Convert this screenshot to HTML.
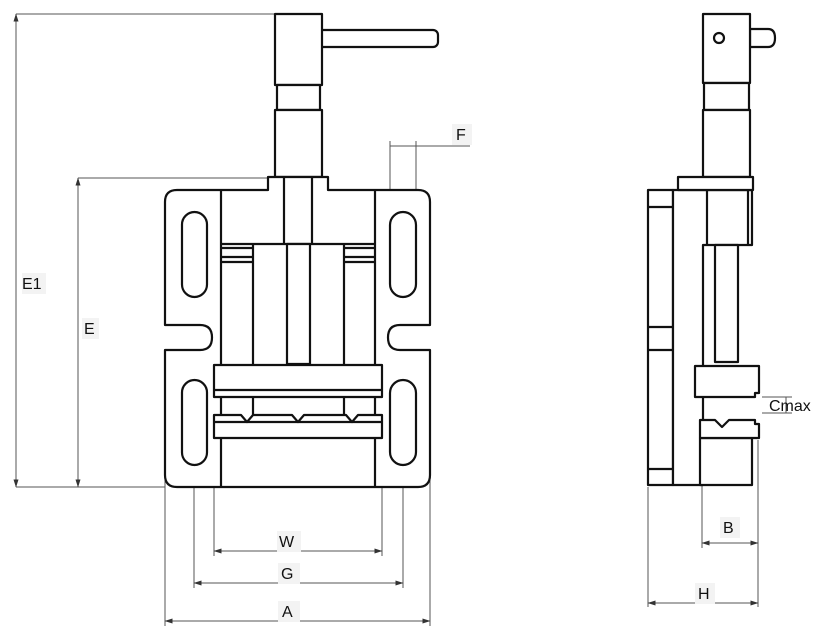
<!DOCTYPE html>
<html><head><style>body{margin:0;background:#fff}svg{display:block}text{font-family:"Liberation Sans",sans-serif;font-size:16px;fill:#111}</style></head><body>
<svg width="823" height="633" viewBox="0 0 823 633" xmlns="http://www.w3.org/2000/svg">
<defs><marker id="a" markerWidth="8" markerHeight="6" refX="7.5" refY="3" orient="auto-start-reverse"><path d="M0,0.5L8,3L0,5.5z" fill="#333"/></marker></defs>
<rect width="823" height="633" fill="#fff"/>
<g stroke="#555" stroke-width="1" fill="none">
<line x1="16" y1="14" x2="275" y2="14"/><line x1="78" y1="178" x2="268" y2="178"/><line x1="16" y1="487" x2="165" y2="487"/>
<line x1="16" y1="14" x2="16" y2="487" marker-start="url(#a)" marker-end="url(#a)"/>
<line x1="78" y1="178" x2="78" y2="487" marker-start="url(#a)" marker-end="url(#a)"/>
<line x1="165" y1="470" x2="165" y2="626"/><line x1="430" y1="470" x2="430" y2="626"/>
<line x1="194" y1="455" x2="194" y2="588"/><line x1="403" y1="455" x2="403" y2="588"/>
<line x1="214" y1="436" x2="214" y2="556"/><line x1="382" y1="436" x2="382" y2="556"/>
<line x1="214" y1="551" x2="382" y2="551" marker-start="url(#a)" marker-end="url(#a)"/>
<line x1="194" y1="583" x2="403" y2="583" marker-start="url(#a)" marker-end="url(#a)"/>
<line x1="165" y1="621" x2="430" y2="621" marker-start="url(#a)" marker-end="url(#a)"/>
<line x1="390" y1="141" x2="390" y2="222"/><line x1="416" y1="141" x2="416" y2="222"/>
<line x1="390" y1="146" x2="470" y2="146"/>
<line x1="648" y1="487" x2="648" y2="607"/><line x1="758" y1="440" x2="758" y2="607"/><line x1="702" y1="440" x2="702" y2="548"/>
<line x1="702" y1="543" x2="758" y2="543" marker-start="url(#a)" marker-end="url(#a)"/>
<line x1="648" y1="603" x2="758" y2="603" marker-start="url(#a)" marker-end="url(#a)"/>
<line x1="762" y1="397" x2="792" y2="397"/><line x1="762" y1="413" x2="792" y2="413"/>
<line x1="786" y1="397" x2="786" y2="413"/>
</g>
<g fill="#f3f3f3"><rect x="22" y="273" width="24" height="21"/><rect x="82" y="318" width="17" height="21"/><rect x="277" y="531" width="24" height="21"/><rect x="278" y="563" width="22" height="21"/><rect x="278" y="601" width="22" height="21"/><rect x="452" y="124" width="20" height="21"/><rect x="720" y="517" width="20" height="21"/><rect x="695" y="583" width="20" height="21"/></g>
<text x="22" y="289">E1</text><text x="84" y="334">E</text><text x="279" y="547">W</text><text x="281" y="579">G</text><text x="282" y="617">A</text><text x="456" y="140">F</text><text x="723" y="533">B</text><text x="698" y="599">H</text><text x="769" y="411">Cmax</text>
<g stroke="#111" stroke-width="2.2" fill="#fff" stroke-linejoin="round">
<rect x="318" y="30" width="120" height="17" rx="5"/>
<rect x="275" y="14" width="47" height="71"/><rect x="277" y="85" width="43" height="25"/><rect x="275" y="110" width="47" height="67"/>
<path d="M268,177H328V190H418Q430,190 430,202V325H400Q388,325 388,337.5Q388,350 400,350H430V475Q430,487 418,487H177Q165,487 165,475V350H200Q212,350 212,337.5Q212,325 200,325H165V202Q165,190 177,190H268Z"/>
<rect x="182" y="212" width="25" height="85" rx="12.5"/><rect x="182" y="380" width="25" height="85" rx="12.5"/>
<rect x="390" y="212" width="26" height="85" rx="13"/><rect x="390" y="380" width="26" height="85" rx="13"/>
<line x1="221" y1="190" x2="221" y2="487"/><line x1="375" y1="190" x2="375" y2="487"/>
<line x1="284" y1="177" x2="284" y2="244"/><line x1="312" y1="177" x2="312" y2="244"/>
<line x1="221" y1="244" x2="375" y2="244"/>
<line x1="221" y1="248" x2="253" y2="248"/><line x1="221" y1="257" x2="253" y2="257"/><line x1="221" y1="262" x2="253" y2="262"/>
<line x1="344" y1="248" x2="375" y2="248"/><line x1="344" y1="257" x2="375" y2="257"/><line x1="344" y1="262" x2="375" y2="262"/>
<line x1="253" y1="244" x2="253" y2="365"/><line x1="344" y1="244" x2="344" y2="365"/>
<rect x="287" y="244" width="23" height="120"/>
<rect x="214" y="365" width="168" height="32"/><line x1="214" y1="390" x2="382" y2="390"/>
<line x1="253" y1="397" x2="253" y2="415"/><line x1="344" y1="397" x2="344" y2="415"/>
<path d="M214,415H241L247,422L253,415H292L298,422L304,415H346L352,422L358,415H382V438H214Z"/><line x1="214" y1="422" x2="382" y2="422"/>
</g>
<g stroke="#111" stroke-width="2.2" fill="#fff" stroke-linejoin="round">
<path d="M750,29H768Q775,29 775,38Q775,47 768,47H750Z"/>
<rect x="703" y="14" width="47" height="69"/><circle cx="719" cy="38" r="5"/>
<rect x="704" y="83" width="45" height="27"/><rect x="703" y="110" width="47" height="67"/>
<rect x="648" y="190" width="25" height="295"/>
<line x1="648" y1="207" x2="673" y2="207"/><line x1="648" y1="327" x2="673" y2="327"/><line x1="648" y1="350" x2="673" y2="350"/><line x1="648" y1="469" x2="673" y2="469"/>
<path d="M673,190H752V245H703V485H673Z"/>
<rect x="678" y="177" width="75" height="13"/>
<line x1="707" y1="190" x2="707" y2="245"/><line x1="748" y1="190" x2="748" y2="245"/>
<rect x="715" y="245" width="23" height="117"/>
<path d="M700,438H752V485H700Z"/>
<path d="M695,366H759V393H755V397H695Z"/>
<path d="M700,420H715L722,427L729,420H755V424H759V438H700Z"/>
</g>
</svg>
</body></html>
